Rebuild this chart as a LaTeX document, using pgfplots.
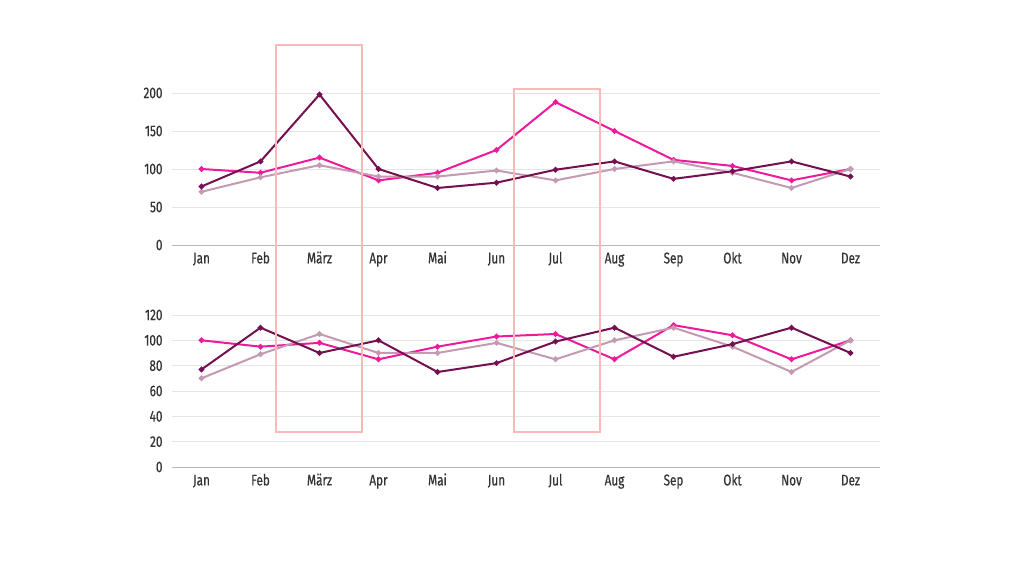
\documentclass[border=0pt]{standalone}
\usepackage{fontspec}
\setmainfont{Fira Sans}[FakeStretch=0.76, FakeBold=0.4]
\usepackage{pgfplots}
\pgfplotsset{compat=1.18}
\definecolor{cdark}{HTML}{74104F}
\definecolor{cmag}{HTML}{EE1A9B}
\definecolor{cmauve}{HTML}{C49AB2}
\definecolor{cbox}{HTML}{F9B9B9}
\definecolor{ctick}{HTML}{333333}
\pgfplotsset{
  mystyle/.style={
    scale only axis,
    width=708bp,
    height=152bp,
    xmin=-0.5, xmax=11.5,
    ymin=0,
    axis lines*=left,
    y axis line style={draw=none},
    x axis line style={draw=black!28, line width=0.9bp},
    xtick={0,...,11},
    xticklabels={Jan,Feb,März,Apr,Mai,Jun,Jul,Aug,Sep,Okt,Nov,Dez},
    major tick length=0pt,
    ymajorgrids,
    grid style={draw=black!10, line width=0.8bp},
    tick label style={font=\fontsize{15.5}{17}\selectfont, text=ctick},
    /pgf/number format/assume math mode=true,
    xticklabel style={yshift=-6.5bp, text height=1.6ex, text depth=0.4ex},
    yticklabel style={xshift=-6bp},
    clip=false,
    every axis plot/.append style={line width=2bp, mark=*, mark size=1.7bp},
  }
}
\begin{document}
\begin{tikzpicture}[x=1bp,y=1bp]
\path[use as bounding box, fill=white] (0,0) rectangle (1024,576);
\begin{axis}[mystyle, at={(172bp,331bp)}, anchor=south west,
  ymax=200, ytick={0,50,100,150,200}]
\addplot[color=cmag, mark options={fill=cmag}] coordinates {(0,100)(1,95)(2,115)(3,85)(4,95)(5,125)(6,188)(7,150)(8,112)(9,104)(10,85)(11,100)};
\addplot[color=cmauve, mark options={fill=cmauve}] coordinates {(0,70)(1,89)(2,105)(3,90)(4,90)(5,98)(6,85)(7,100)(8,110)(9,95)(10,75)(11,100)};
\addplot[color=cdark, mark options={fill=cdark}] coordinates {(0,77)(1,110)(2,198)(3,100)(4,75)(5,82)(6,99)(7,110)(8,87)(9,97)(10,110)(11,90)};
\end{axis}
\begin{axis}[mystyle, at={(172bp,109bp)}, anchor=south west,
  ymax=120, ytick={0,20,40,60,80,100,120}]
\addplot[color=cmag, mark options={fill=cmag}] coordinates {(0,100)(1,95)(2,98)(3,85)(4,95)(5,103)(6,105)(7,85)(8,112)(9,104)(10,85)(11,100)};
\addplot[color=cmauve, mark options={fill=cmauve}] coordinates {(0,70)(1,89)(2,105)(3,90)(4,90)(5,98)(6,85)(7,100)(8,110)(9,95)(10,75)(11,100)};
\addplot[color=cdark, mark options={fill=cdark}] coordinates {(0,77)(1,110)(2,90)(3,100)(4,75)(5,82)(6,99)(7,110)(8,87)(9,97)(10,110)(11,90)};
\end{axis}
\draw[cbox, line width=1.5bp] (276,531) rectangle (362,144);
\draw[cbox, line width=1.5bp] (514,487) rectangle (600,144);
\end{tikzpicture}
\end{document}
